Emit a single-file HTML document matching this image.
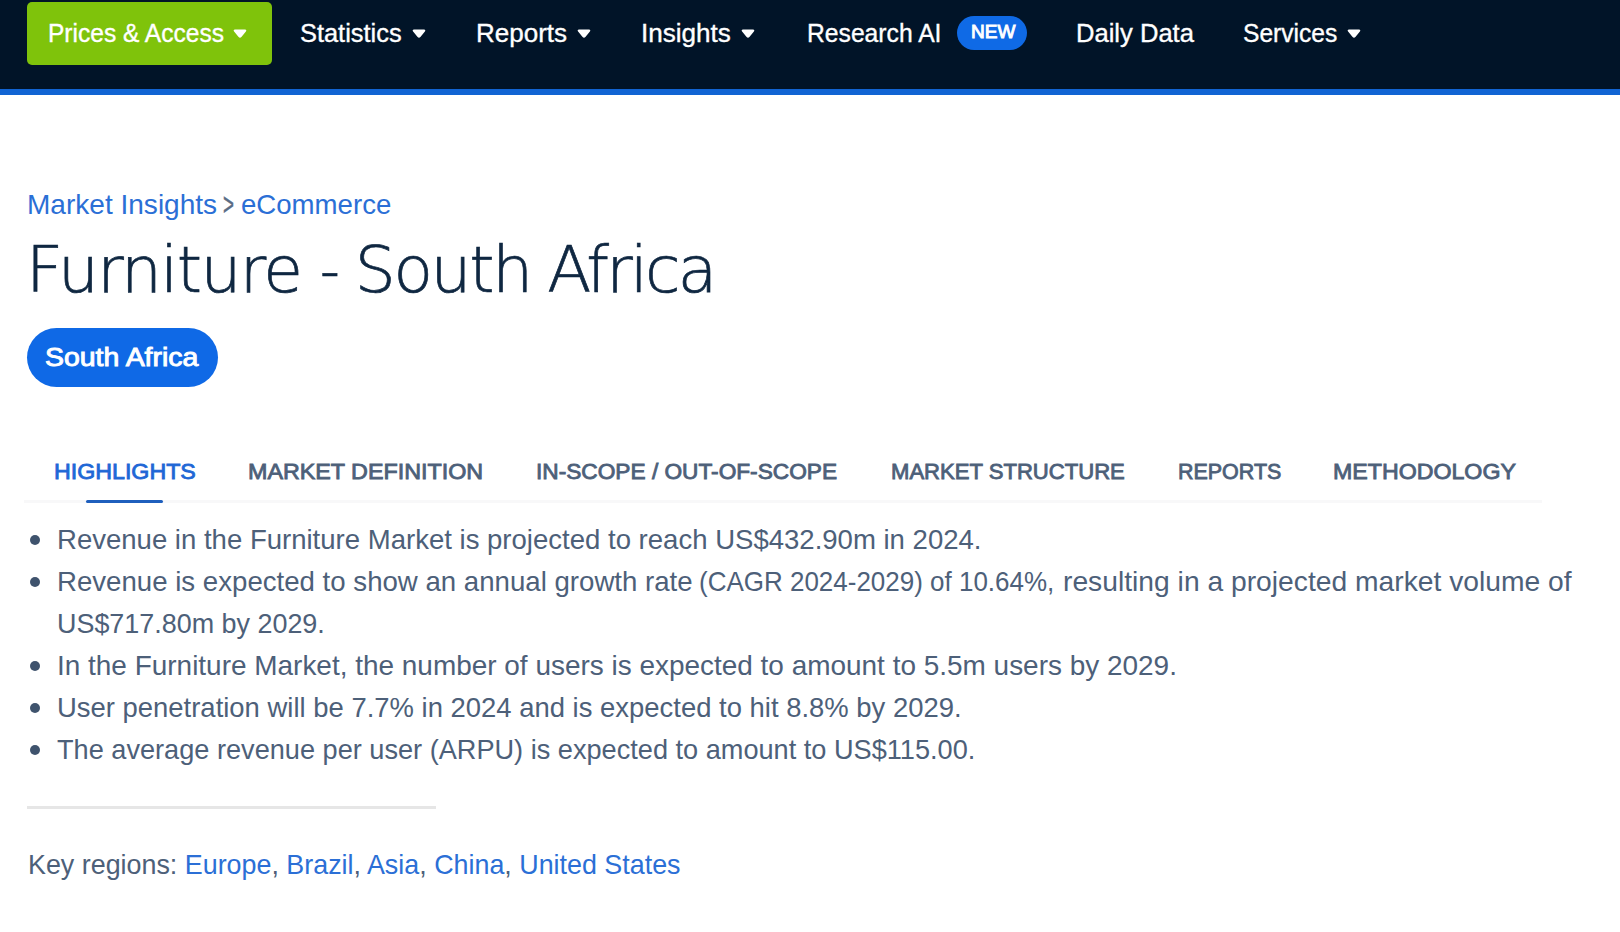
<!DOCTYPE html>
<html lang="en">
<head>
<meta charset="utf-8">
<title>Furniture - South Africa | Market Insights</title>
<style>
*{box-sizing:border-box;margin:0;padding:0}
html,body{width:1620px;height:932px;overflow:hidden;background:#fff}
body{font-family:"Liberation Sans",sans-serif;position:relative;color:#4d6079}
a{text-decoration:none;color:inherit}
ul{list-style:none}
h1{font-weight:400;font-size:inherit}
.t{position:absolute;white-space:nowrap;line-height:1;display:block;font-weight:400;transform-origin:0 0}

/* top navigation */
.nav{position:absolute;left:0;top:0;width:1620px;height:94.5px;background:#011428;border-bottom:6.4px solid #1164d3}
.cta{position:absolute;left:27px;top:1.5px;width:244.8px;height:63px;background:#7fc30b;border-radius:5px}
.n{color:#fff;-webkit-text-stroke:.35px #fff}
.caret{position:absolute;top:28.7px;width:14px;height:9px}
.caret svg{display:block;width:14px;height:9px}
.badge{position:absolute;left:957px;top:15.7px;width:70.2px;height:34.7px;border-radius:17.5px;background:#0f6ae6}
.new{color:#fff;-webkit-text-stroke:.9px #fff}

/* breadcrumb + title */
.crumb{color:#2b6fd6}
.sep{color:#5a6c84;-webkit-text-stroke:.5px #5a6c84}
.h{font-family:"DejaVu Sans","Liberation Sans",sans-serif;font-weight:200;color:#0f2741;-webkit-text-stroke:.7px #0f2741}
.pill{position:absolute;left:27px;top:328px;width:191px;height:59px;border-radius:30px;background:#0f69e6}
.pt{color:#fff;-webkit-text-stroke:.9px #fff}

/* tabs */
.tabs{position:absolute;left:24.3px;top:499.7px;width:1517.5px;height:3.2px;background:#f8f8f9}
.tab{color:#4d6079;-webkit-text-stroke:.85px #4d6079}
.tab.on{color:#1f67d6;-webkit-text-stroke-color:#1f67d6}
.ink{position:absolute;left:85.5px;top:499.6px;width:77.8px;height:3.3px;border-radius:1.6px;background:#1f5fbd}

/* highlights list */
.li{color:#4d6079}
.dot{position:absolute;left:29.5px;width:10px;height:10px;border-radius:50%;background:#3f536d}
.rule{position:absolute;left:27.2px;top:805.8px;width:409.3px;height:3.1px;background:#e6e6e6}
.key{color:#4d6079}
.key a{color:#2b6fd6}
</style>
</head>
<body>

<div class="nav">
  <a class="cta"></a>
  <span class="t n" style="left:47.84px;top:21.40px;font-size:25.5px;transform:scaleX(0.9625)">Prices &amp; Access</span>
  <span class="caret" style="left:233px"><svg viewBox="0 0 14 9"><path d="M2 .4h10c1.4 0 1.7 1.1 .9 2L8.4 8c-.8 .9-2 .9-2.8 0L1.1 2.4C.3 1.500 .6 .4 2 .4z" fill="#fff"/></svg></span>
  <span class="t n" style="left:299.50px;top:21.40px;font-size:25.5px;transform:scaleX(0.9959)">Statistics</span>
  <span class="caret" style="left:411.5px"><svg viewBox="0 0 14 9"><path d="M2 .4h10c1.4 0 1.7 1.1 .9 2L8.4 8c-.8 .9-2 .9-2.8 0L1.1 2.4C.3 1.500 .6 .4 2 .4z" fill="#fff"/></svg></span>
  <span class="t n" style="left:475.63px;top:21.40px;font-size:25.5px;transform:scaleX(1.0201)">Reports</span>
  <span class="caret" style="left:576.5px"><svg viewBox="0 0 14 9"><path d="M2 .4h10c1.4 0 1.7 1.1 .9 2L8.4 8c-.8 .9-2 .9-2.8 0L1.1 2.4C.3 1.500 .6 .4 2 .4z" fill="#fff"/></svg></span>
  <span class="t n" style="left:640.50px;top:21.40px;font-size:25.5px;transform:scaleX(1.0225)">Insights</span>
  <span class="caret" style="left:741px"><svg viewBox="0 0 14 9"><path d="M2 .4h10c1.4 0 1.7 1.1 .9 2L8.4 8c-.8 .9-2 .9-2.8 0L1.1 2.4C.3 1.500 .6 .4 2 .4z" fill="#fff"/></svg></span>
  <span class="t n" style="left:806.92px;top:21.40px;font-size:25.5px;transform:scaleX(0.9680)">Research AI</span>
  <span class="badge"></span>
  <span class="t new" style="left:971.00px;top:23.40px;font-size:18px;transform:scaleX(1.0580)">NEW</span>
  <span class="t n" style="left:1075.58px;top:21.40px;font-size:25.5px;transform:scaleX(1.0025)">Daily Data</span>
  <span class="t n" style="left:1243.00px;top:21.40px;font-size:25.5px;transform:scaleX(0.9648)">Services</span>
  <span class="caret" style="left:1346.5px"><svg viewBox="0 0 14 9"><path d="M2 .4h10c1.4 0 1.7 1.1 .9 2L8.4 8c-.8 .9-2 .9-2.8 0L1.1 2.4C.3 1.500 .6 .4 2 .4z" fill="#fff"/></svg></span>
</div>

<a class="t crumb" style="left:27.20px;top:190.90px;font-size:27.8px;transform:scaleX(1.0087)">Market Insights</a>
<span class="t sep" style="left:223.01px;top:188.97px;font-size:31px;transform:scaleX(0.6054)">&gt;</span>
<a class="t crumb" style="left:241.00px;top:190.90px;font-size:27.8px;transform:scaleX(0.9927)">eCommerce</a>

<h1><span class="t h" style="left:26.01px;top:238.00px;font-size:64.5px;letter-spacing:-1.586px">Furniture</span> <span class="t h" style="left:320.00px;top:237.60px;font-size:64.5px;transform:scaleX(0.8488)">-</span> <span class="t h" style="left:354.74px;top:238.00px;font-size:64.5px;letter-spacing:-2.291px">South</span> <span class="t h" style="left:547.17px;top:238.00px;font-size:64.5px;letter-spacing:-2.762px">Africa</span></h1>

<div class="pill"></div>
<span class="t pt" style="left:45.29px;top:345.00px;font-size:25px;transform:scaleX(1.1376)">South Africa</span>

<div class="tabs"></div>
<a class="t tab on" style="left:54.13px;top:461.00px;font-size:22.3px;transform:scaleX(1.0407)">HIGHLIGHTS</a>
<a class="t tab" style="left:248.41px;top:461.00px;font-size:22.3px;transform:scaleX(1.0447)">MARKET DEFINITION</a>
<a class="t tab" style="left:535.92px;top:461.00px;font-size:22.3px;transform:scaleX(1.0167)">IN-SCOPE / OUT-OF-SCOPE</a>
<a class="t tab" style="left:890.50px;top:461.00px;font-size:22.3px;transform:scaleX(0.9900)">MARKET STRUCTURE</a>
<a class="t tab" style="left:1178.00px;top:461.00px;font-size:22.3px;transform:scaleX(0.9620)">REPORTS</a>
<a class="t tab" style="left:1333.07px;top:461.00px;font-size:22.3px;transform:scaleX(1.0395)">METHODOLOGY</a>
<div class="ink"></div>

<ul>
  <li><span class="t li" style="left:57.00px;top:526.00px;font-size:27.6px;transform:scaleX(0.9979)">Revenue in the Furniture Market is projected to reach US$432.90m in 2024.</span></li>
  <li><span class="t li" style="left:57.00px;top:568.00px;font-size:27.6px;transform:scaleX(1.0009)">Revenue is expected to show an annual growth rate</span> <span class="t li seg" style="left:699.37px;top:568.00px;font-size:27.6px;transform:scaleX(0.9416)">(CAGR 2024-2029) of 10.64%,</span> <span class="t li seg" style="left:1062.56px;top:568.00px;font-size:27.6px;transform:scaleX(1.0236)">resulting in a projected market volume of</span> <span class="t li cont" style="left:57.00px;top:610.00px;font-size:27.6px;transform:scaleX(0.9753)">US$717.80m by 2029.</span></li>
  <li><span class="t li" style="left:57.00px;top:652.00px;font-size:27.6px;transform:scaleX(1.0127)">In the Furniture Market, the number of users is expected to amount to 5.5m users by 2029.</span></li>
  <li><span class="t li" style="left:57.00px;top:694.00px;font-size:27.6px;transform:scaleX(0.9945)">User penetration will be 7.7% in 2024 and is expected to hit 8.8% by 2029.</span></li>
  <li><span class="t li" style="left:57.00px;top:736.00px;font-size:27.6px;transform:scaleX(0.9836)">The average revenue per user (ARPU) is expected to amount to US$115.00.</span></li>
</ul>
<i class="dot" style="top:535px"></i>
<i class="dot" style="top:577px"></i>
<i class="dot" style="top:661px"></i>
<i class="dot" style="top:703px"></i>
<i class="dot" style="top:745px"></i>

<div class="rule"></div>

<p class="t key" style="left:28.00px;top:851.40px;font-size:27.6px;transform:scaleX(0.9734)">Key regions: <a>Europe</a>, <a>Brazil</a>, <a>Asia</a>, <a>China</a>, <a>United States</a></p>

</body>
</html>
